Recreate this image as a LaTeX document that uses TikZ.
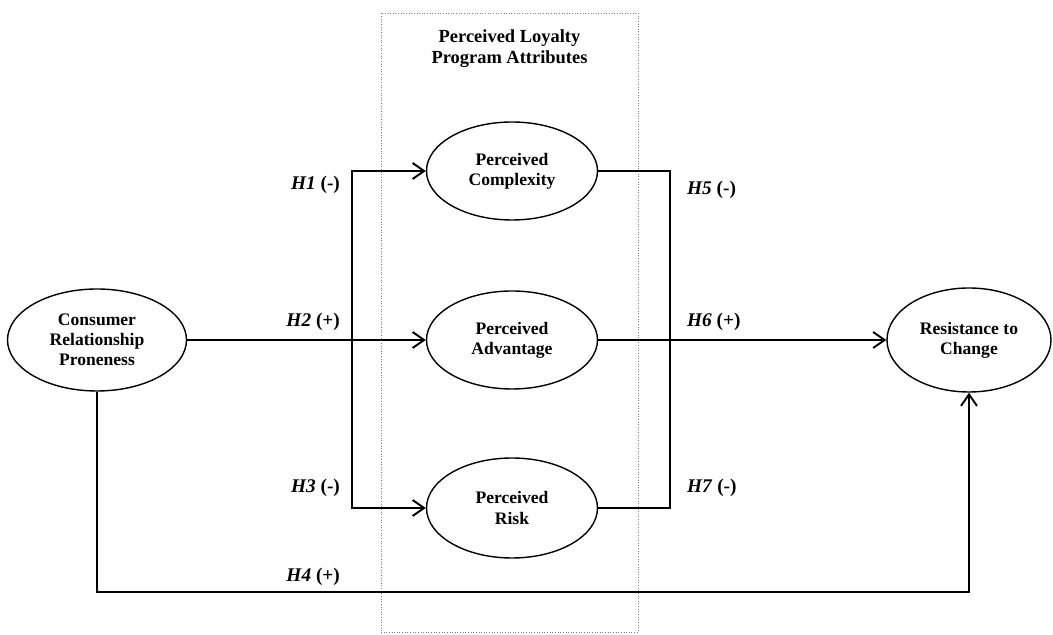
\documentclass[tikz,border=0pt]{standalone}
\usepackage{fontspec}
\setmainfont{Liberation Serif}
\usepackage{tikz}
\usetikzlibrary{arrows.meta,positioning,calc,shapes.geometric}

\begin{document}
\begin{tikzpicture}[
    construct/.style={ellipse, draw, line width=0.8pt, inner sep=0pt, align=center,
        font=\bfseries\fontsize{10}{11.5}\selectfont},
    hyp/.style={font=\bfseries\fontsize{11}{13}\selectfont, inner sep=1pt},
    link/.style={line width=1.1pt},
    arr/.style={link, -{Straight Barb[length=2.3mm, width=3.2mm]}}]
    \useasboundingbox (0,0) rectangle (21.06,12.7);
    % Attribute box
    \node[draw, densely dotted, gray, line width=0.5pt, minimum width=5.14cm, minimum height=12.38cm,
        inner sep=0pt] (box) at (10.19,6.25) {};
    \node[font=\bfseries\fontsize{10.5}{12}\selectfont, align=center, below=0.22cm of box.north] (title)
        {Perceived Loyalty\\Program Attributes};
    % Constructs
    \node[construct, minimum width=3.58cm, minimum height=2.04cm] (crp) at (1.94,5.9)
        {Consumer\\Relationship\\Proneness};
    \node[construct, minimum width=3.42cm, minimum height=1.96cm] (pc) at (10.24,9.28)
        {Perceived\\Complexity};
    \node[construct, minimum width=3.42cm, minimum height=1.96cm] (pa) at (10.24,5.9)
        {Perceived\\Advantage};
    \node[construct, minimum width=3.42cm, minimum height=2.0cm] (pr) at (10.24,2.54)
        {Perceived\\Risk};
    \node[construct, minimum width=3.28cm, minimum height=2.08cm] (rtc) at (19.38,5.9)
        {Resistance to\\Change};
    % Split points
    \coordinate (lsplit) at (7.04,5.9);
    \coordinate (rsplit) at (13.4,5.9);
    \coordinate (base) at (0,0.86);
    % Paths
    \draw[arr] (crp.east) -- (pa.west);
    \draw[arr] (lsplit) |- (pc.west);
    \draw[arr] (lsplit) |- (pr.west);
    \draw[link] (pc.east) -| (rsplit);
    \draw[link] (pr.east) -| (rsplit);
    \draw[arr] (pa.east) -- (rtc.west);
    \draw[arr] (crp.south) |- (rtc.south |- base) -- (rtc.south);
    % Hypotheses
    \node[hyp, anchor=east] (h1) at (6.84,9.0) {\textit{H1} (-)};
    \node[hyp, anchor=east] (h2) at (6.84,6.26) {\textit{H2} (+)};
    \node[hyp, anchor=east] (h3) at (6.84,2.94) {\textit{H3} (-)};
    \node[hyp, anchor=east] (h4) at (6.84,1.16) {\textit{H4} (+)};
    \node[hyp, anchor=west] (h5) at (13.7,8.9) {\textit{H5} (-)};
    \node[hyp, anchor=west] (h6) at (13.7,6.26) {\textit{H6} (+)};
    \node[hyp, anchor=west] (h7) at (13.7,2.94) {\textit{H7} (-)};
\end{tikzpicture}
\end{document}
